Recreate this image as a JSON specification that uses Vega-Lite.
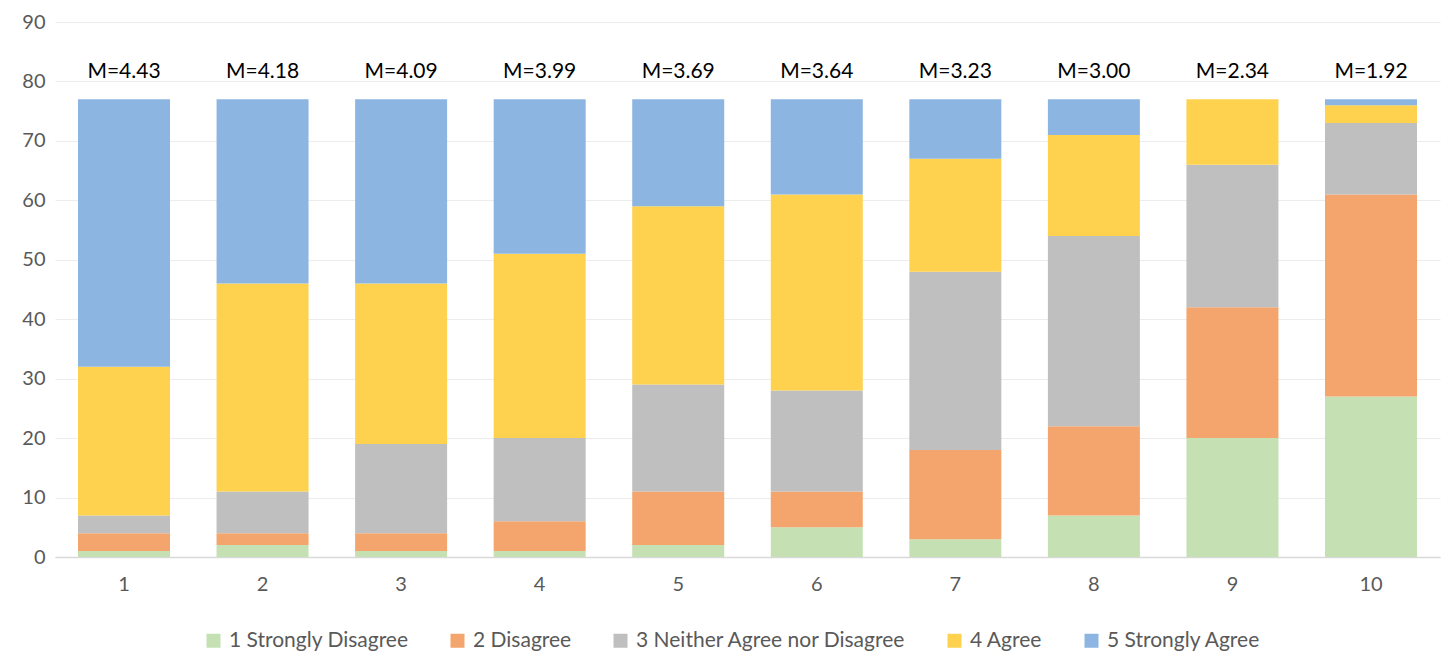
{
  "$schema": "https://vega.github.io/schema/vega-lite/v6.json",
  "width": 1385,
  "height": 535,
  "autosize": {"type": "none"},
  "padding": {"left": 55, "top": 22, "right": 5, "bottom": 95},
  "background": "white",
  "config": {
    "view": {"stroke": null},
    "font": "Lato",
    "axis": {"labelFont": "Lato", "labelFontSize": 20, "labelColor": "#595959", "titleFontSize": 0},
    "legend": {"labelFont": "Lato", "labelFontSize": 21, "labelColor": "#595959", "labelLimit": 0}
  },
  "datasets": {
    "responses": [
      {"item": 1, "response": "1 Strongly Disagree", "count": 1},
      {"item": 1, "response": "2 Disagree", "count": 3},
      {"item": 1, "response": "3 Neither Agree nor Disagree", "count": 3},
      {"item": 1, "response": "4 Agree", "count": 25},
      {"item": 1, "response": "5 Strongly Agree", "count": 45},
      {"item": 2, "response": "1 Strongly Disagree", "count": 2},
      {"item": 2, "response": "2 Disagree", "count": 2},
      {"item": 2, "response": "3 Neither Agree nor Disagree", "count": 7},
      {"item": 2, "response": "4 Agree", "count": 35},
      {"item": 2, "response": "5 Strongly Agree", "count": 31},
      {"item": 3, "response": "1 Strongly Disagree", "count": 1},
      {"item": 3, "response": "2 Disagree", "count": 3},
      {"item": 3, "response": "3 Neither Agree nor Disagree", "count": 15},
      {"item": 3, "response": "4 Agree", "count": 27},
      {"item": 3, "response": "5 Strongly Agree", "count": 31},
      {"item": 4, "response": "1 Strongly Disagree", "count": 1},
      {"item": 4, "response": "2 Disagree", "count": 5},
      {"item": 4, "response": "3 Neither Agree nor Disagree", "count": 14},
      {"item": 4, "response": "4 Agree", "count": 31},
      {"item": 4, "response": "5 Strongly Agree", "count": 26},
      {"item": 5, "response": "1 Strongly Disagree", "count": 2},
      {"item": 5, "response": "2 Disagree", "count": 9},
      {"item": 5, "response": "3 Neither Agree nor Disagree", "count": 18},
      {"item": 5, "response": "4 Agree", "count": 30},
      {"item": 5, "response": "5 Strongly Agree", "count": 18},
      {"item": 6, "response": "1 Strongly Disagree", "count": 5},
      {"item": 6, "response": "2 Disagree", "count": 6},
      {"item": 6, "response": "3 Neither Agree nor Disagree", "count": 17},
      {"item": 6, "response": "4 Agree", "count": 33},
      {"item": 6, "response": "5 Strongly Agree", "count": 16},
      {"item": 7, "response": "1 Strongly Disagree", "count": 3},
      {"item": 7, "response": "2 Disagree", "count": 15},
      {"item": 7, "response": "3 Neither Agree nor Disagree", "count": 30},
      {"item": 7, "response": "4 Agree", "count": 19},
      {"item": 7, "response": "5 Strongly Agree", "count": 10},
      {"item": 8, "response": "1 Strongly Disagree", "count": 7},
      {"item": 8, "response": "2 Disagree", "count": 15},
      {"item": 8, "response": "3 Neither Agree nor Disagree", "count": 32},
      {"item": 8, "response": "4 Agree", "count": 17},
      {"item": 8, "response": "5 Strongly Agree", "count": 6},
      {"item": 9, "response": "1 Strongly Disagree", "count": 20},
      {"item": 9, "response": "2 Disagree", "count": 22},
      {"item": 9, "response": "3 Neither Agree nor Disagree", "count": 24},
      {"item": 9, "response": "4 Agree", "count": 11},
      {"item": 9, "response": "5 Strongly Agree", "count": 0},
      {"item": 10, "response": "1 Strongly Disagree", "count": 27},
      {"item": 10, "response": "2 Disagree", "count": 34},
      {"item": 10, "response": "3 Neither Agree nor Disagree", "count": 12},
      {"item": 10, "response": "4 Agree", "count": 3},
      {"item": 10, "response": "5 Strongly Agree", "count": 1}
    ],
    "means": [
      {"item": 1, "total": 77, "label": "M=4.43"},
      {"item": 2, "total": 77, "label": "M=4.18"},
      {"item": 3, "total": 77, "label": "M=4.09"},
      {"item": 4, "total": 77, "label": "M=3.99"},
      {"item": 5, "total": 77, "label": "M=3.69"},
      {"item": 6, "total": 77, "label": "M=3.64"},
      {"item": 7, "total": 77, "label": "M=3.23"},
      {"item": 8, "total": 77, "label": "M=3.00"},
      {"item": 9, "total": 77, "label": "M=2.34"},
      {"item": 10, "total": 77, "label": "M=1.92"}
    ]
  },
  "encoding": {
    "x": {
      "field": "item",
      "type": "ordinal",
      "scale": {"paddingInner": 0.336, "paddingOuter": 0.166},
      "axis": {
        "title": null,
        "labelAngle": 0,
        "labelPadding": 17,
        "ticks": false,
        "domainColor": "#d9d9d9",
        "domainWidth": 1.5,
        "grid": false
      }
    }
  },
  "layer": [
    {
      "data": {"name": "responses"},
      "mark": {"type": "bar"},
      "encoding": {
        "y": {
          "field": "count",
          "type": "quantitative",
          "stack": "zero",
          "scale": {"domain": [0, 90], "nice": false},
          "axis": {
            "title": null,
            "values": [0, 10, 20, 30, 40, 50, 60, 70, 80, 90],
            "domain": false,
            "ticks": false,
            "labelPadding": 10,
            "gridColor": "#ececec",
            "gridWidth": 1.2
          }
        },
        "color": {
          "field": "response",
          "type": "nominal",
          "scale": {
            "domain": ["1 Strongly Disagree", "2 Disagree", "3 Neither Agree nor Disagree", "4 Agree", "5 Strongly Agree"],
            "range": ["#c5e0b3", "#f4a46d", "#bfbfbf", "#fed24f", "#8db5e1"]
          },
          "legend": {
            "title": null,
            "orient": "none",
            "direction": "horizontal",
            "legendX": 148,
            "legendY": 608,
            "symbolType": "square",
            "symbolSize": 196,
            "symbolStrokeWidth": 0,
            "labelOffset": 5,
            "columnPadding": 38
          }
        },
        "order": {"field": "response", "sort": "ascending"}
      }
    },
    {
      "data": {"name": "means"},
      "mark": {"type": "text", "fontSize": 21, "color": "#000000", "dy": -27, "baseline": "middle"},
      "encoding": {
        "y": {"field": "total", "type": "quantitative"},
        "text": {"field": "label"}
      }
    }
  ]
}
